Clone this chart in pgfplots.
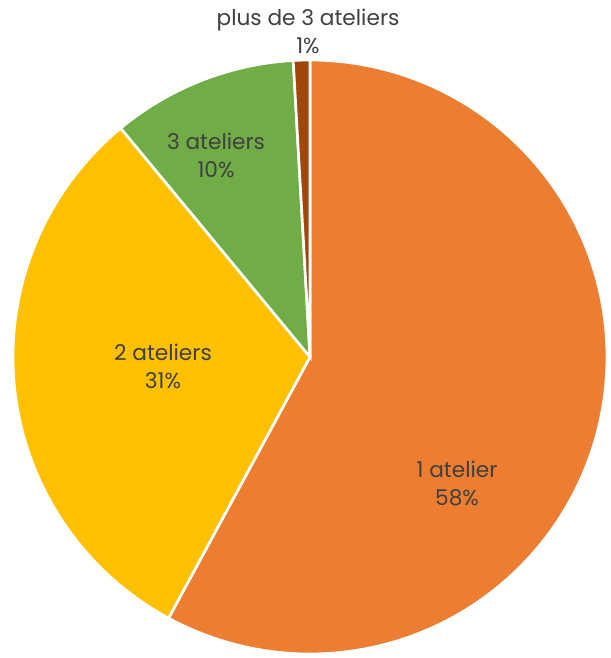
\documentclass[border=0pt]{standalone}
\usepackage{pgfplots}
\pgfplotsset{compat=1.18}
\usepgfplotslibrary{polar}
\usepackage{fontspec}
\setmainfont{Poppins}

\definecolor{sliceA}{HTML}{ED7D31}
\definecolor{sliceB}{HTML}{FFC000}
\definecolor{sliceC}{HTML}{70AD47}
\definecolor{sliceD}{HTML}{9E480E}
\definecolor{labelgray}{HTML}{404040}

\tikzset{lbl/.style={align=center, text=labelgray, font=\fontsize{13}{16.8}\selectfont}}

% shares in percent, clockwise from 12 o'clock
\def\vA{57.9}  % 1 atelier
\def\vB{31.1}  % 2 ateliers
\def\vC{10.1}  % 3 ateliers
\def\vD{0.9}   % plus de 3 ateliers

\pgfmathsetmacro{\aA}{90}
\pgfmathsetmacro{\aB}{\aA-3.6*\vA}
\pgfmathsetmacro{\aC}{\aB-3.6*\vB}
\pgfmathsetmacro{\aD}{\aC-3.6*\vC}
\pgfmathsetmacro{\aE}{\aD-3.6*\vD}

\begin{document}
\begin{tikzpicture}
\begin{polaraxis}[
    hide axis,
    scale only axis,
    width=356.4pt, height=356.4pt,
    xmin=0, xmax=360, ymin=0, ymax=1,
    clip=false,
    every axis plot/.style={draw=white, line width=1.6pt, samples=150},
  ]
  \addplot[fill=sliceA, domain=\aB:\aA] {1} -- (axis cs:0,0) -- cycle;
  \addplot[fill=sliceB, domain=\aC:\aB] {1} -- (axis cs:0,0) -- cycle;
  \addplot[fill=sliceC, domain=\aD:\aC] {1} -- (axis cs:0,0) -- cycle;
  \addplot[fill=sliceD, domain=\aE:\aD, samples=10] {1} -- (axis cs:0,0) -- cycle;

  \coordinate (O) at (axis cs:0,0);
  \node[lbl] at (axis cs:-40.8,0.654) {1 atelier\\58\%};
  \node[lbl] at (axis cs:183.5,0.496) {2 ateliers\\31\%};
  \node[lbl] at (axis cs:114.95,0.750) {3 ateliers\\10\%};
  \node[lbl] at (axis cs:90.35,1.098) {plus de 3 ateliers\\1\%};
\end{polaraxis}
\path ([shift={(-186pt,214.2pt)}]O) rectangle ([shift={(180.6pt,-180.6pt)}]O);
\end{tikzpicture}
\end{document}
